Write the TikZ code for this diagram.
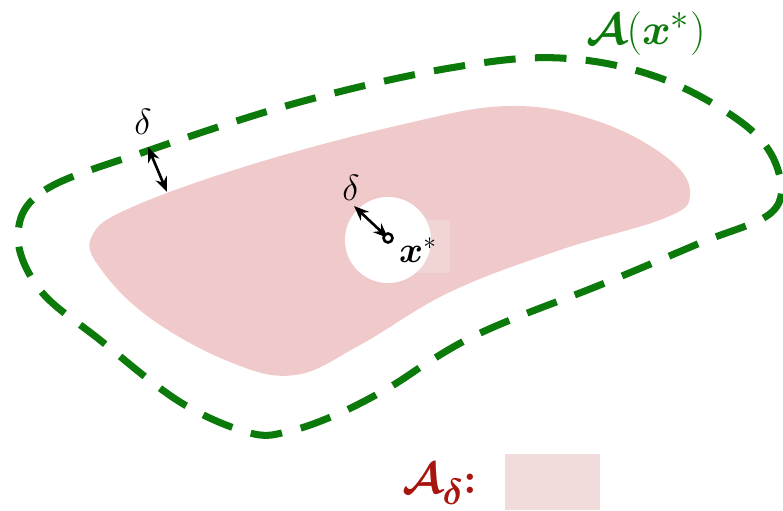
\documentclass[tikz,border=0pt]{standalone}
\usepackage{amsmath,bm}
\usetikzlibrary{arrows.meta, positioning}
\definecolor{cgreen}{HTML}{0B7A0B}
\definecolor{cpink}{HTML}{F0C9CA}
\definecolor{cpale}{HTML}{F2DCDB}
\definecolor{cred}{HTML}{A8140E}
\tikzset{
  every picture/.style={line width=1.2pt},
  region/.style={fill=cpink, draw=none},
  boundary/.style={draw=cgreen, line width=4pt, dash pattern=on 18pt off 11pt},
  gap/.style={{Stealth[length=3mm, width=2.4mm]}-{Stealth[length=3mm, width=2.4mm]}, draw=black, line width=1.5pt},
  lbl/.style={font=\huge, inner sep=0pt},
}
\begin{document}
\begin{tikzpicture}[x=0.02cm, y=-0.02cm]
  \useasboundingbox (0,0) rectangle (783,510);
  % pink region
  \fill[region] plot[smooth cycle, tension=0.65] coordinates {
    (92,236) (130,208) (250,165) (400,125) (510,106) (600,122) (670,160)
    (690,195) (665,218) (560,250) (450,292) (360,345) (295,375) (230,362)
    (150,318) (100,268)};
  % faint patch and hole round x*
  \fill[cpale!60!cpink] (418,220) rectangle (450,273);
  \fill[white] (388,240) circle (43);
  % dashed boundary
  \draw[boundary] plot[smooth cycle, tension=0.6] coordinates {
    (18,235) (45,190) (150,150) (300,102) (450,68) (560,58) (660,78)
    (745,125) (778,170) (772,212) (700,243) (600,285) (520,316) (470,338)
    (430,361) (390,387) (340,413) (290,431) (250,433) (180,402) (100,340)
    (40,290)};
  % point and gaps
  \coordinate (xs) at (388,238);
  \coordinate (hole) at (354,206);
  \coordinate (outA) at (148,147);
  \coordinate (outB) at (167,192);
  \draw[gap] (hole) -- (xs);
  \draw[line width=1.5pt, fill=white] (xs) circle (4.5);
  \draw[gap] (outA) -- (outB);
  \node[lbl] (d1) at (351,188) {$\delta$};
  \node[lbl] (d2) at (143,122) {$\delta$};
  \node[lbl] (xlab) at (418,250) {$\bm{x}^{*}$};
  \node[font=\Huge, text=cgreen, inner sep=0pt] (title) at (646,34) {$\bm{\mathcal{A}}(\bm{x}^{*})$};
  % legend
  \node[font=\Huge, text=cred, inner sep=0pt] (key) at (440,484) {$\bm{\mathcal{A}_{\delta}}$\textbf{:}};
  \node[fill=cpale, minimum width=1.9cm, minimum height=1.12cm, inner sep=0pt] (swatch) at (552.5,482) {};
\end{tikzpicture}
\end{document}
